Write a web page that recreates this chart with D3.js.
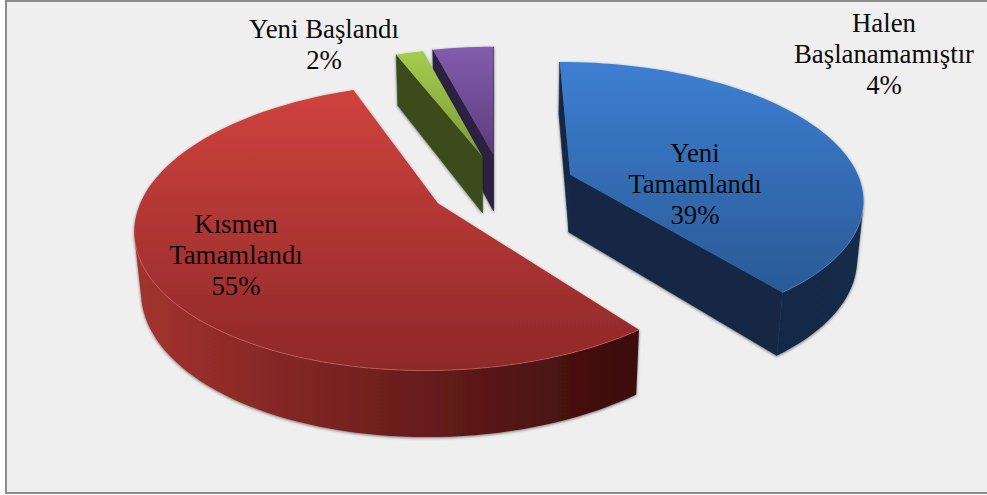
<!DOCTYPE html>
<html><head><meta charset="utf-8">
<script src="https://cdn.jsdelivr.net/npm/d3@7/dist/d3.min.js"></script>
<style>html,body{margin:0;padding:0;background:#fff}svg{display:block}</style></head>
<body><svg id="c" width="987" height="495"></svg>
<script>
const categories=["Kısmen Tamamlandı","Yeni Başlandı","Halen Başlanamamıştır","Yeni Tamamlandı"];
const values=[54.7,1.8,4,39.5];
const labelLines=[["Kısmen","Tamamlandı","55%"],["Yeni Başlandı","2%"],["Halen","Başlanamamıştır","4%"],["Yeni","Tamamlandı","39%"]];
const labelPos=[[236,224],[324,29],[884,23],[695,153]];
const topColors=[["#cf433e","#8f2829"],["#a5cc4e","#7c9a38"],["#835cae","#5c3d7c"],["#3d7fd2","#2a5a96"]];
const wallColors=[["#a2322e","#3a0c0c"],["#3f5220","#32441a"],["#2f2344","#2a1f3d"],["#122644","#14294a"]];
const cutColors=["#3a0c0c","#3a4c1c","#2c2040","#132845"];
const rimColors=["#e8857c","#c5dc80","#a58cc8","#6fa3e0"];
const nudge=[[-1,0],[2,2],[1,4],[4,4]];

const W=987,H=495,cx=501,cy=187,R=292,tilt=.461,persp=.161,depth=59,conv=.0003,explode=70;
const svg=d3.select("#c");
const defs=svg.append("defs");
const f=defs.append("filter").attr("id","sh").attr("x","-5%").attr("y","-5%").attr("width","110%").attr("height","115%");
f.append("feDropShadow").attr("dx",0).attr("dy",1).attr("stdDeviation",1.6).attr("flood-color","#000").attr("flood-opacity",.5);
svg.append("rect").attr("width",W).attr("height",H).attr("fill","#fff");
svg.append("rect").attr("x",6).attr("y",1).attr("width",W).attr("height",492).attr("fill","#efefef").attr("stroke","#8c8c8c").attr("stroke-width",2);

const rad=d=>d*Math.PI/180;
const pie=d3.pie().sort(null).startAngle(rad(142)).endAngle(rad(502));
const arcs=pie(values);
function proj(X,Y,Z){const s=1/(1+persp*Y/R-conv*Z);return [cx+X*s,cy-(tilt*Y+Z)*s];}
function slicePts(a,i){
  const m=(a.startAngle+a.endAngle)/2,ox=explode*Math.sin(m)+nudge[i][0],oy=explode*Math.cos(m)+nudge[i][1];
  const steps=Math.max(4,Math.round((a.endAngle-a.startAngle)/rad(2)));
  const angs=d3.range(steps+1).map(k=>a.startAngle+(a.endAngle-a.startAngle)*k/steps);
  const at=(r,t,z)=>proj(ox+r*Math.sin(t),oy+r*Math.cos(t),z);
  return {apex:z=>proj(ox,oy,z),ring:z=>angs.map(t=>at(R,t,z))};
}
const line=d3.line();
const area=p=>d3.polygonArea(p);
const order=[2,1,3,0];
order.forEach(i=>{
  const a=arcs[i],P=slicePts(a,i),g=svg.append("g").attr("filter","url(#sh)");
  const tr=P.ring(0),br=P.ring(-depth),at=P.apex(0),ab=P.apex(-depth);
  const ys=[...tr,at].map(p=>p[1]);
  const lg=defs.append("linearGradient").attr("id","t"+i).attr("gradientUnits","userSpaceOnUse")
    .attr("x1",0).attr("x2",0).attr("y1",d3.min(ys)).attr("y2",d3.max(ys));
  lg.append("stop").attr("offset",0).attr("stop-color",topColors[i][0]);
  lg.append("stop").attr("offset",1).attr("stop-color",topColors[i][1]);
  const xs=br.map(p=>p[0]);
  const wg=defs.append("linearGradient").attr("id","w"+i).attr("gradientUnits","userSpaceOnUse")
    .attr("y1",0).attr("y2",0).attr("x1",d3.min(xs)).attr("x2",d3.max(xs));
  wg.append("stop").attr("offset",0).attr("stop-color",wallColors[i][0]);
  wg.append("stop").attr("offset",1).attr("stop-color",wallColors[i][1]);
  const n=tr.length-1;
  [[at,tr[0],br[0],ab],[tr[n],at,ab,br[n]]].forEach(q=>{
    if(area(q)>0) g.append("path").attr("d",line(q)+"Z").attr("fill",cutColors[i]).attr("stroke",cutColors[i]).attr("stroke-width",.6);
  });
  const rim=d3.range(n).filter(k=>area([tr[k],tr[k+1],br[k+1],br[k]])>0);
  if(rim.length){
    const idx=rim.concat([rim[rim.length-1]+1]);
    const wall=idx.map(k=>tr[k]).concat(idx.map(k=>br[k]).reverse());
    g.append("path").attr("d",line(wall)+"Z").attr("fill",`url(#w${i})`);
  }
  g.append("path").attr("d",line([at,...tr])+"Z").attr("fill",`url(#t${i})`);
  if(rim.length){
    const idx=rim.concat([rim[rim.length-1]+1]);
    g.append("path").attr("d",line(idx.map(k=>tr[k]))).attr("fill","none").attr("stroke",rimColors[i]).attr("stroke-opacity",.45).attr("stroke-width",1);
  }
});
labelLines.forEach((ls,i)=>{
  const t=svg.append("text").attr("text-anchor","middle").attr("font-family","'Liberation Serif','Times New Roman',serif").attr("font-size",26.8).attr("fill","#0a0a0a");
  ls.forEach((s,j)=>t.append("tspan").attr("x",labelPos[i][0]).attr("y",labelPos[i][1]+9+j*31).text(s));
});
</script></body></html>
